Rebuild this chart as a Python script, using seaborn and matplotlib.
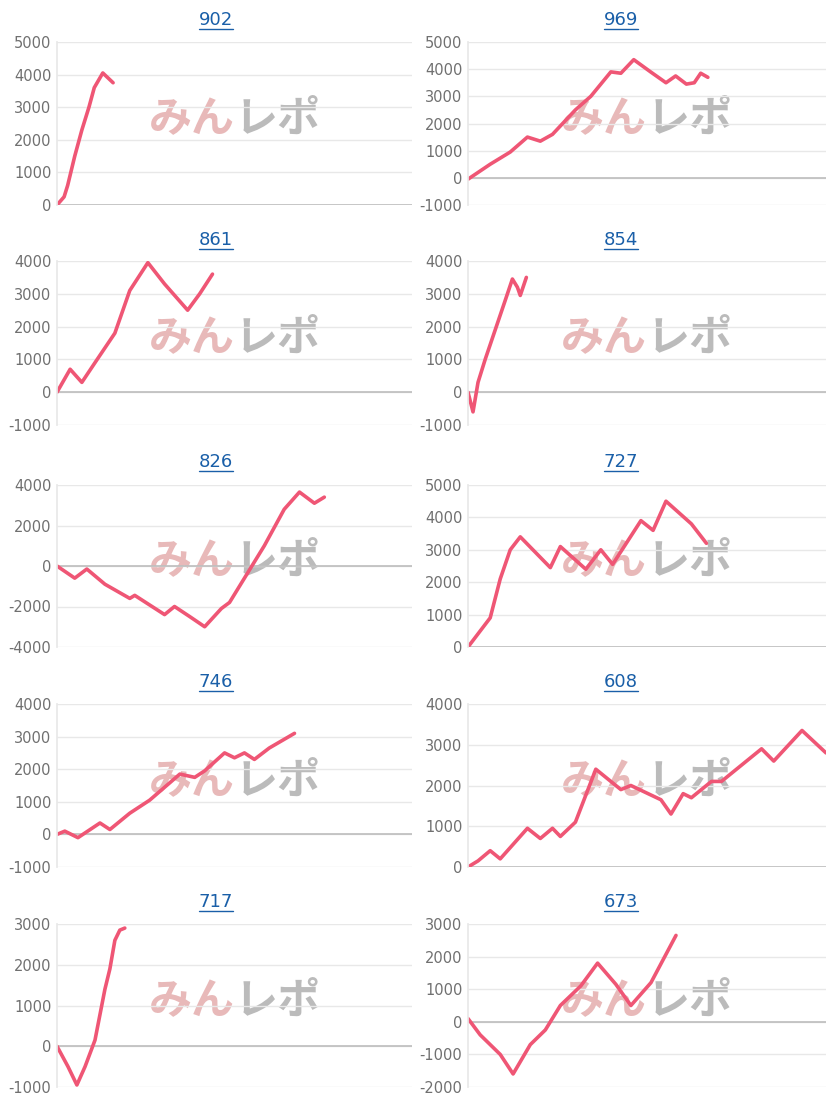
import matplotlib
matplotlib.use("Agg")
import matplotlib.pyplot as plt
from matplotlib.lines import Line2D
import seaborn as sns
import pandas as pd

sns.set_theme(style="white")
plt.rcParams['font.family'] = ['DejaVu Sans', 'Noto Sans CJK JP']
plt.rcParams['axes.unicode_minus'] = False

titles = ["902", "969", "861", "854", "826", "727", "746", "608", "717", "673"]
x902 = [0, 2, 3, 5, 7, 9, 10.5, 12.9, 15.8]
y902 = [0, 250, 600, 1500, 2300, 3000, 3600, 4050, 3750]
x969 = [0, 6.2, 11.8, 16.6, 20.2, 23.6, 30, 34.3, 39.9, 42.7, 46.3, 51, 55.3, 58, 61, 63.2, 65, 67]
y969 = [-50, 500, 950, 1500, 1350, 1600, 2500, 3000, 3900, 3850, 4350, 3900, 3500, 3750, 3450, 3500, 3850, 3700]
x861 = [0, 3.7, 7, 10.7, 16.3, 20.5, 25.6, 30.3, 36.8, 40.2, 43.8]
y861 = [0, 700, 300, 900, 1800, 3100, 3950, 3300, 2500, 3000, 3600]
x854 = [0, 1.4, 2.8, 4.8, 7.6, 10.4, 12.4, 13.8, 14.6, 16.3]
y854 = [0, -600, 300, 1000, 1900, 2800, 3450, 3200, 2950, 3500]
x826 = [0, 5, 8.4, 13.5, 20.5, 21.9, 30.3, 33.1, 37.4, 41.6, 46.3, 48.6, 58.4, 64, 68.3, 72.5, 75.3]
y826 = [0, -600, -150, -900, -1600, -1450, -2400, -2000, -2500, -3000, -2100, -1800, 1000, 2800, 3650, 3100, 3400]
x727 = [0, 6.2, 9, 11.8, 14.6, 23, 25.8, 32.9, 37.1, 40.4, 48.3, 51.7, 55.3, 62.4, 66.6]
y727 = [0, 900, 2100, 3000, 3400, 2450, 3100, 2400, 3000, 2550, 3900, 3600, 4500, 3800, 3200]
x746 = [0, 2.2, 5.9, 12.1, 14.9, 20.5, 26.1, 34.6, 38.8, 41.6, 47.2, 50, 52.8, 55.6, 59.8, 66.9]
y746 = [0, 100, -100, 350, 150, 650, 1050, 1850, 1750, 1950, 2500, 2350, 2500, 2300, 2650, 3100]
x608 = [0, 2.8, 6.2, 9, 16.6, 20.2, 23.6, 25.8, 30, 35.7, 42.7, 45.5, 53.9, 56.7, 60.1, 62.4, 68, 70.8, 82, 85.4, 93.3, 100]
y608 = [0, 150, 400, 200, 950, 700, 950, 750, 1100, 2400, 1900, 2000, 1650, 1300, 1800, 1700, 2100, 2100, 2900, 2600, 3350, 2800]
x717 = [0, 3.1, 5.6, 7.9, 10.7, 13.5, 14.9, 16.3, 17.7, 19.1]
y717 = [0, -500, -950, -500, 150, 1400, 1900, 2600, 2850, 2900]
x673 = [0, 3.4, 9, 12.6, 17.4, 21.6, 25.8, 31.5, 36.2, 41.3, 45.5, 51.1, 58.1]
y673 = [100, -400, -1000, -1600, -700, -250, 500, 1100, 1800, 1150, 500, 1200, 2650]

series = [(x902, y902), (x969, y969), (x861, y861), (x854, y854), (x826, y826),
          (x727, y727), (x746, y746), (x608, y608), (x717, y717), (x673, y673)]
ylims = [(0, 5000, 1000), (-1000, 5000, 1000), (-1000, 4000, 1000), (-1000, 4000, 1000),
         (-4000, 4000, 2000), (0, 5000, 1000), (-1000, 4000, 1000), (0, 4000, 1000),
         (-1000, 3000, 1000), (-2000, 3000, 1000)]

W, H = 826, 1105
fig = plt.figure(figsize=(W / 100, H / 100), dpi=100)
rows = [(42, 205), (261, 425), (485, 647), (704, 867), (924, 1087)]
title_y = [20, 240, 462, 682, 902]
title_x = [216, 621]
cols = [(57, 412), (468, 826)]
line_color = "#ef5675"
blue = "#1a5fa8"
for i, (xs, ys) in enumerate(series):
    r, c = divmod(i, 2)
    top, bot = rows[r]
    l, rr = cols[c]
    ax = fig.add_axes([l / W, 1 - bot / H, (rr - l) / W, (bot - top) / H])
    lo, hi, st = ylims[i]
    df = pd.DataFrame({"x": xs, "y": ys})
    sns.lineplot(data=df, x="x", y="y", ax=ax, color=line_color, lw=2.6, sort=False)
    ax.set_xlim(0, 100)
    ax.set_ylim(lo, hi)
    ax.set_yticks(list(range(lo, hi + 1, st)))
    ax.set_xticks([])
    ax.set_xlabel("")
    ax.set_ylabel("")
    ax.grid(axis="y", color="#e8e8e8", lw=1)
    ax.axhline(0, color="#bdbdbd", lw=1.2, zorder=1)
    for s in ["top", "right", "bottom"]:
        ax.spines[s].set_visible(False)
    ax.spines["left"].set_color("#e8e8e8")
    ax.tick_params(axis="y", colors="#707070", labelsize=10.5, length=0, pad=4)
    tx, ty = title_x[c], title_y[r]
    fig.text(tx / W, 1 - ty / H, titles[i], color=blue, fontsize=13, ha="center", va="center")
    fig.add_artist(Line2D([(tx - 17) / W, (tx + 17) / W], [1 - (ty + 9) / H] * 2,
                          color=blue, lw=1, transform=fig.transFigure))
    ax.text(0.5, 0.53, "みん", transform=ax.transAxes, ha="right", va="center",
            fontsize=31, fontweight="bold", style="italic", color="#e8b9b9",
            family=["Noto Sans CJK JP"], zorder=0)
    ax.text(0.5, 0.53, "レポ", transform=ax.transAxes, ha="left", va="center",
            fontsize=31, fontweight="bold", style="italic", color="#bbbbbb",
            family=["Noto Sans CJK JP"], zorder=0)

fig.savefig("out.png", dpi=100)
